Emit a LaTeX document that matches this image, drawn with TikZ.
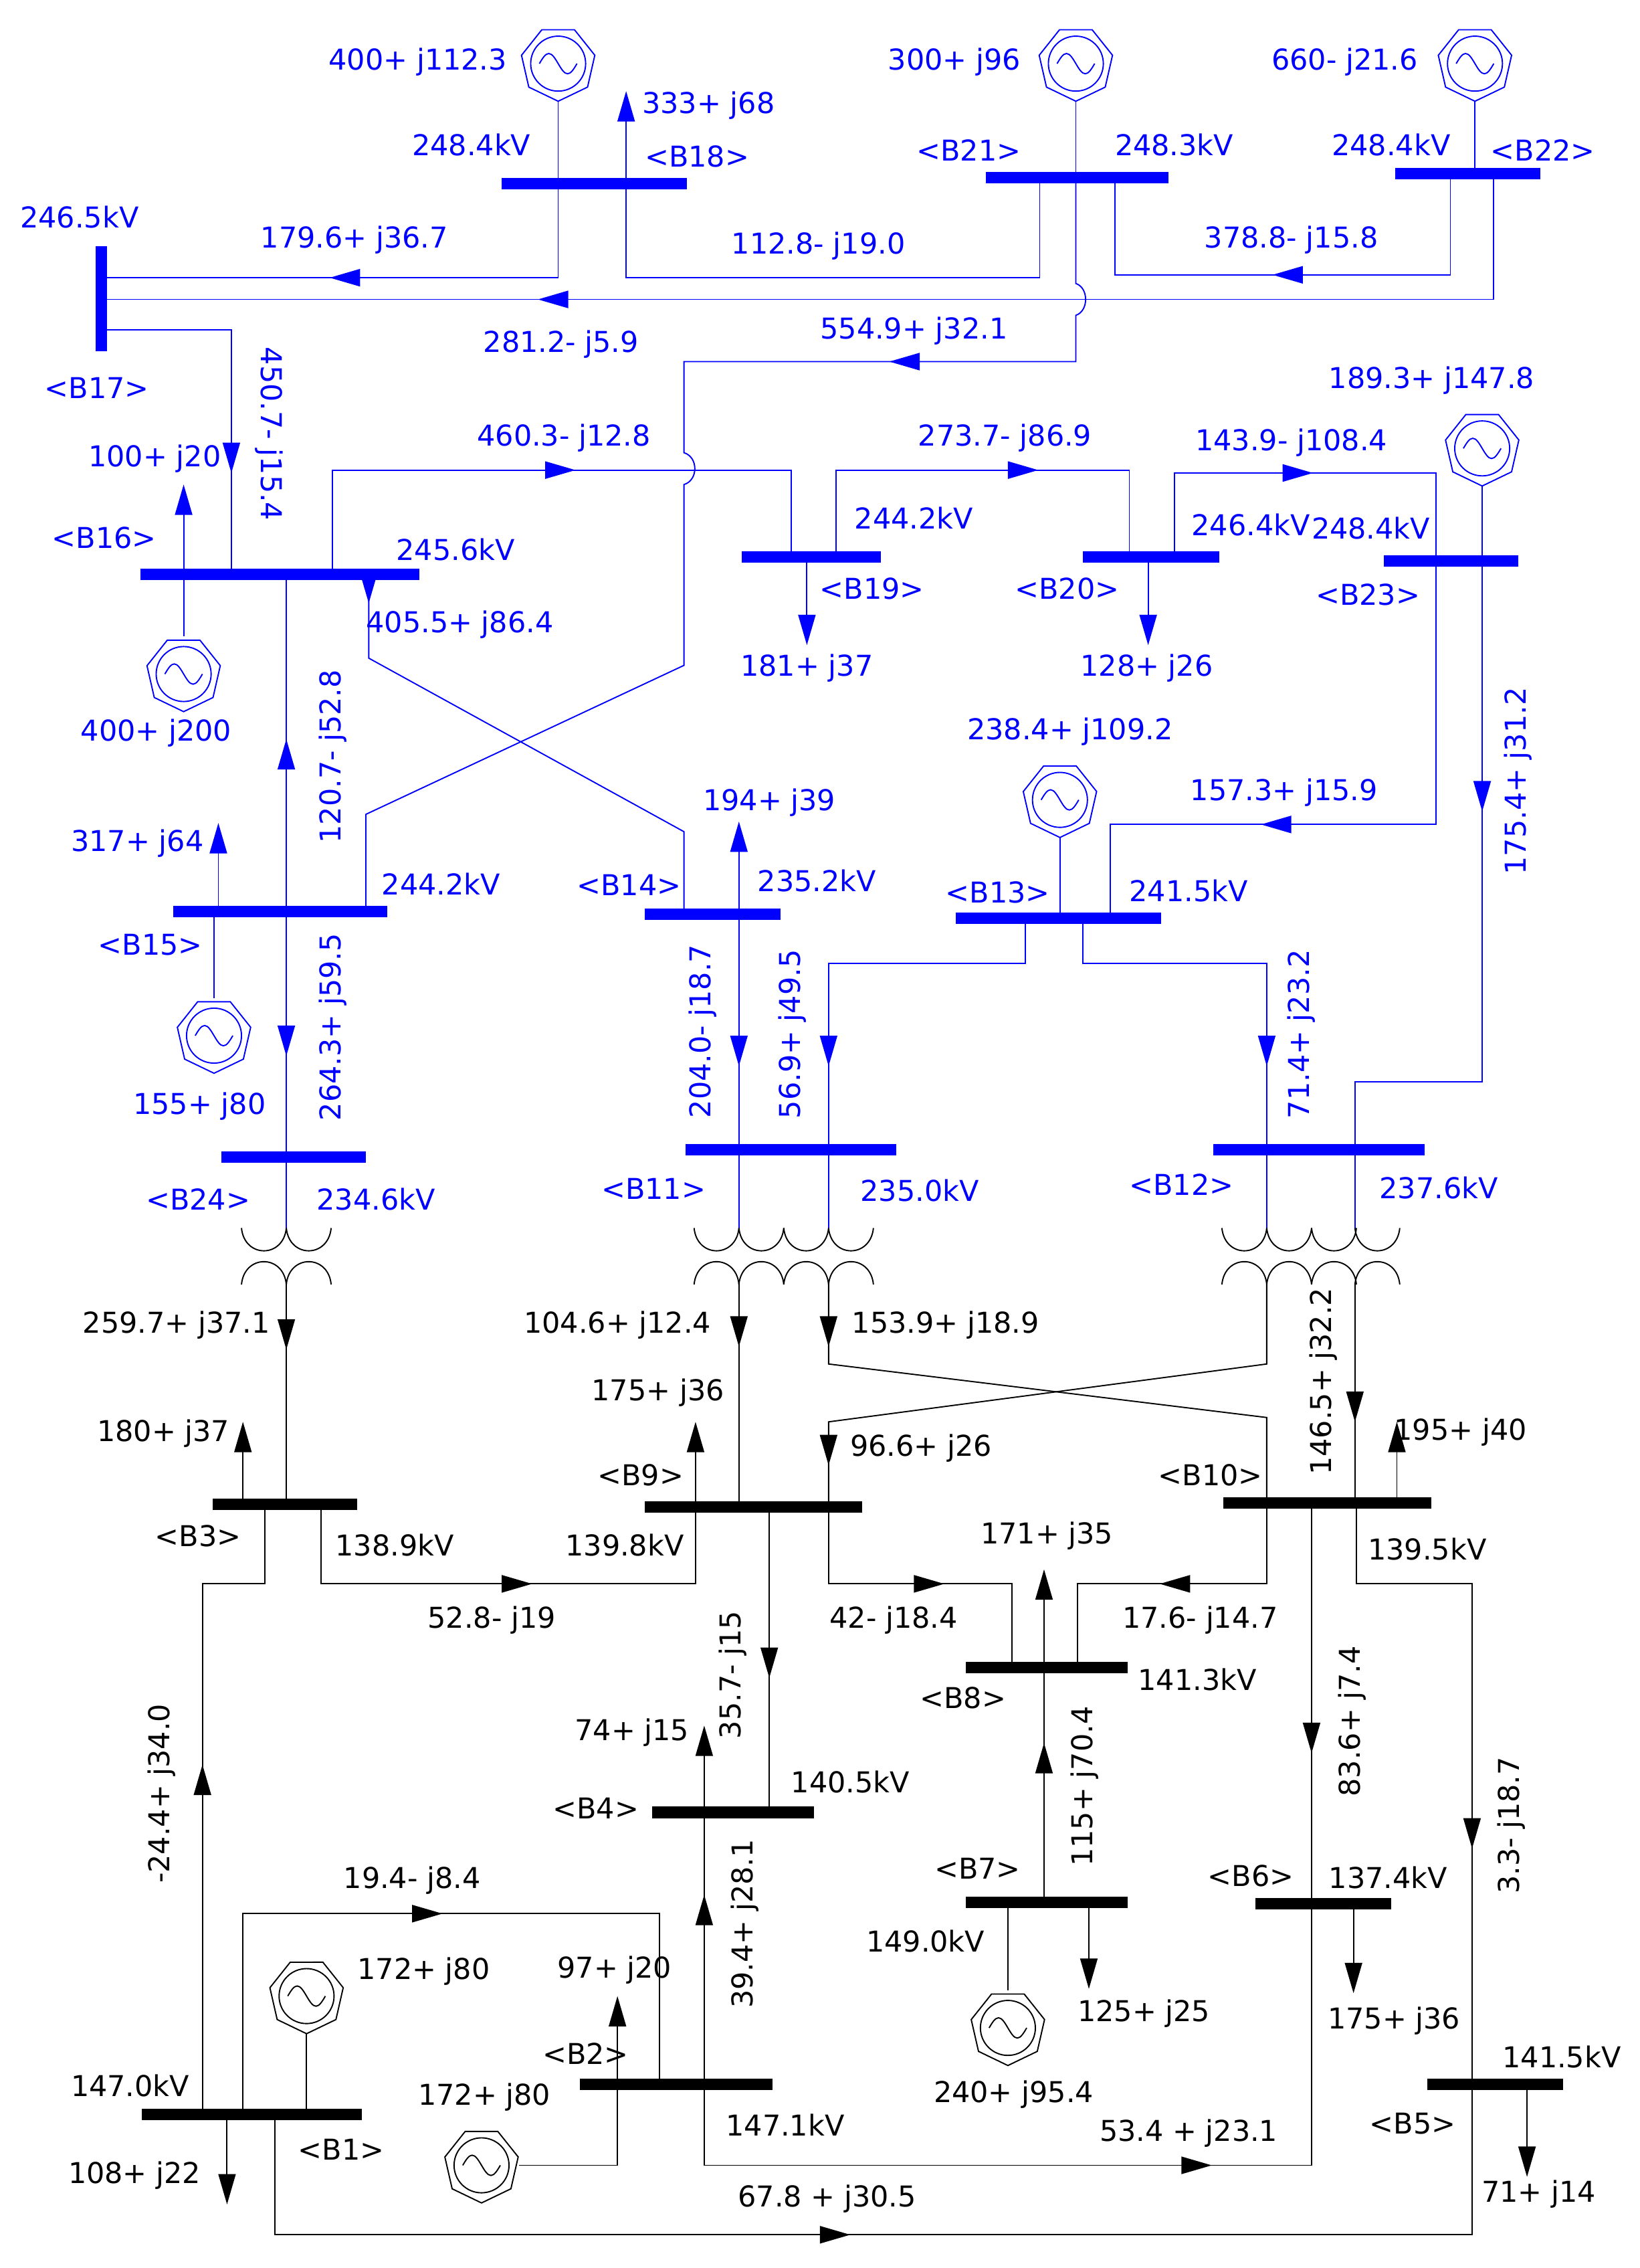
\documentclass[tikz,border=0pt]{standalone}
\usepackage{fontspec}
\setmainfont{DejaVu Sans}
\usetikzlibrary{arrows.meta}
\definecolor{bl}{RGB}{0,0,255}
\begin{document}
\begin{tikzpicture}[x=0.02cm,y=-0.02cm,
  every node/.style={font=\fontsize{11.3}{13}\selectfont,inner sep=0pt},
  ln/.style={line width=0.5pt},
  bus/.style={line width=4.5pt},
  ar/.style={ln,-{Triangle[length=0.42cm,width=0.24cm]}},
  gen/.pic={\draw[ln] (90:26)--(141.4:26)--(192.8:26)--(244.2:26)--(295.7:26)--(347.1:26)--(38.6:26)--cycle;
     \draw[ln] (0,0) circle (19);
     \draw[ln] (-13,0) sin (-6.5,-7) cos (0,0) sin (6.5,7) cos (13,0);},
  xa/.pic={\draw[ln] (0,0) .. controls (2,21) and (29,21) .. (31,0);
     \draw[ln] (0,39) .. controls (2,18) and (29,18) .. (31,39);}]
\useasboundingbox (0,0) rectangle (1134,1568);
% ================= BLUE PART =================
\begin{scope}[bl,every node/.append style={text=bl}]
% buses
\draw[bus] (347,127)--(475,127);
\draw[bus] (682,123)--(808,123);
\draw[bus] (965,120)--(1065,120);
\draw[bus] (70,170)--(70,243);
\draw[bus] (97,397)--(290,397);
\draw[bus] (513,385)--(609,385);
\draw[bus] (749,385)--(843,385);
\draw[bus] (957,388)--(1050,388);
\draw[bus] (120,630)--(268,630);
\draw[bus] (446,632)--(540,632);
\draw[bus] (661,635)--(803,635);
\draw[bus] (153,800)--(253,800);
\draw[bus] (474,795)--(620,795);
\draw[bus] (839,795)--(985,795);
% generators
\pic at (386,44) {gen}; \draw[ln] (386,70)--(386,127);
\pic at (744,44) {gen}; \draw[ln] (744,70)--(744,123);
\pic at (1020,44) {gen}; \draw[ln] (1020,70)--(1020,120);
\pic at (1025,310) {gen}; \draw[ln] (1025,336)--(1025,388);
\pic at (127,466) {gen}; \draw[ln] (127,397)--(127,440);
\pic at (148,716) {gen}; \draw[ln] (148,630)--(148,690);
\pic at (733,553) {gen}; \draw[ln] (733,579)--(733,635);
% top lines
\draw[ln] (433,127)--(433,192)--(719,192)--(719,123);
\draw[ar] (433,127)--(433,63);
\draw[ln] (386,127)--(386,192)--(70,192);
\draw[ar] (250,192)--(228,192);
\draw[ln] (1003,120)--(1003,190)--(771,190)--(771,123);
\draw[ar] (905,190)--(880,190);
\draw[ln] (1033,120)--(1033,207)--(70,207);
\draw[ar] (400,207)--(372,207);
\draw[ln] (744,123)--(744,196) .. controls (753,199) and (753,215) .. (744,218)--(744,250)--(473,250)--(473,313)
   .. controls (483,316) and (483,332) .. (473,335)--(473,460)--(253,563)--(253,630);
\draw[ar] (640,250)--(615,250);
\draw[ln] (70,228)--(160,228)--(160,397);
\draw[ar] (160,300)--(160,327);
\draw[ar] (127,397)--(127,335);
\draw[ln] (230,397)--(230,325)--(547,325)--(547,385);
\draw[ar] (370,325)--(398,325);
\draw[ar] (558,385)--(558,446);
\draw[ln] (578,385)--(578,325)--(781,325)--(781,385);
\draw[ar] (690,325)--(718,325);
\draw[ar] (794,385)--(794,446);
\draw[ln] (812,385)--(812,327)--(993,327)--(993,570)--(768,570)--(768,635);
\draw[ar] (880,327)--(908,327);
\draw[ar] (900,570)--(872,570);
\draw[ln] (1025,388)--(1025,748)--(937,748)--(937,795);
\draw[ar] (1025,533)--(1025,561);
\draw[ln] (255,397)--(255,455)--(473,575)--(473,632);
\draw[ar] (255,397)--(255,417);
\draw[ln] (198,397)--(198,800);
\draw[ar] (198,545)--(198,511);
\draw[ar] (198,700)--(198,730);
\draw[ar] (151,630)--(151,569);
\draw[ar] (511,632)--(511,568);
\draw[ln] (511,632)--(511,795);
\draw[ar] (511,705)--(511,737);
\draw[ln] (709,635)--(709,666)--(573,666)--(573,795);
\draw[ar] (573,705)--(573,737);
\draw[ln] (749,635)--(749,666)--(876,666)--(876,795);
\draw[ar] (876,705)--(876,737);
% leads to transformers
\draw[ln] (198,800)--(198,849);
\draw[ln] (511,795)--(511,849);
\draw[ln] (573,795)--(573,849);
\draw[ln] (876,795)--(876,849);
\draw[ln] (937,795)--(937,849);
% labels
\node at (289,43) {400+ j112.3};
\node at (660,43) {300+ j96};
\node at (930,43) {660- j21.6};
\node at (490,73) {333+ j68};
\node at (326,100) {248.4kV};
\node at (482,108) {<B18>};
\node at (670,104) {<B21>};
\node at (812,100) {248.3kV};
\node at (962,100) {248.4kV};
\node at (1067,104) {<B22>};
\node at (55,150) {246.5kV};
\node at (245,166) {179.6+ j36.7};
\node at (566,170) {112.8- j19.0};
\node at (893,166) {378.8- j15.8};
\node at (388,238) {281.2- j5.9};
\node at (632,229) {554.9+ j32.1};
\node at (67,268) {<B17>};
\node at (990,263) {189.3+ j147.8};
\node[rotate=-90] at (186,300) {450.7- j15.4};
\node at (390,303) {460.3- j12.8};
\node at (695,303) {273.7- j86.9};
\node at (893,306) {143.9- j108.4};
\node at (107,317) {100+ j20};
\node at (632,358) {244.2kV};
\node at (865,363) {246.4kV};
\node at (948,365) {248.4kV};
\node at (72,372) {<B16>};
\node at (315,380) {245.6kV};
\node at (603,407) {<B19>};
\node at (738,407) {<B20>};
\node at (946,411) {<B23>};
\node at (318,432) {405.5+ j86.4};
\node at (558,462) {181+ j37};
\node at (793,462) {128+ j26};
\node at (108,507) {400+ j200};
\node at (740,506) {238.4+ j109.2};
\node[rotate=90] at (230,523) {120.7- j52.8};
\node at (532,555) {194+ j39};
\node at (888,548) {157.3+ j15.9};
\node[rotate=90] at (1050,540) {175.4+ j31.2};
\node at (95,583) {317+ j64};
\node at (305,611) {244.2kV};
\node at (435,612) {<B14>};
\node at (565,609) {235.2kV};
\node at (690,617) {<B13>};
\node at (822,616) {241.5kV};
\node at (104,653) {<B15>};
\node[rotate=90] at (486,713) {204.0- j18.7};
\node[rotate=90] at (548,715) {56.9+ j49.5};
\node[rotate=90] at (230,710) {264.3+ j59.5};
\node[rotate=90] at (900,715) {71.4+ j23.2};
\node at (138,765) {155+ j80};
\node at (452,822) {<B11>};
\node at (636,823) {235.0kV};
\node at (817,819) {<B12>};
\node at (995,821) {237.6kV};
\node at (137,829) {<B24>};
\node at (260,829) {234.6kV};
\end{scope}
% ================= TRANSFORMERS =================
\foreach \x in {167,198,480,511,542,573,845,876,907,937} {\pic at (\x,849) {xa};}
% ================= BLACK PART =================
\draw[bus] (147,1040)--(247,1040);
\draw[bus] (446,1042)--(596,1042);
\draw[bus] (846,1039)--(990,1039);
\draw[bus] (668,1153)--(780,1153);
\draw[bus] (451,1253)--(563,1253);
\draw[bus] (668,1315)--(780,1315);
\draw[bus] (868,1316)--(962,1316);
\draw[bus] (98,1462)--(250,1462);
\draw[bus] (401,1441)--(534,1441);
\draw[bus] (987,1441)--(1081,1441);
\pic at (697,1402) {gen}; \draw[ln] (697,1315)--(697,1376);
\pic at (212,1380) {gen}; \draw[ln] (212,1406)--(212,1462);
\pic at (333,1497) {gen}; \draw[ln] (359,1497)--(427,1497)--(427,1441);
\draw[ln] (198,888)--(198,1040);
\draw[ar] (198,905)--(198,933);
\draw[ln] (511,888)--(511,1042);
\draw[ar] (511,903)--(511,931);
\draw[ln] (573,888)--(573,943)--(876,980)--(876,1039);
\draw[ar] (573,903)--(573,931);
\draw[ln] (876,888)--(876,943)--(573,983)--(573,1042);
\draw[ar] (573,985)--(573,1013);
\draw[ln] (937,888)--(937,1039);
\draw[ar] (937,955)--(937,983);
\draw[ar] (168,1040)--(168,983);
\draw[ar] (481,1042)--(481,983);
\draw[ar] (966,1039)--(966,983);
\draw[ln] (222,1040)--(222,1095)--(481,1095)--(481,1042);
\draw[ar] (340,1095)--(368,1095);
\draw[ln] (573,1042)--(573,1095)--(700,1095)--(700,1153);
\draw[ar] (625,1095)--(653,1095);
\draw[ln] (876,1039)--(876,1095)--(745,1095)--(745,1153);
\draw[ar] (830,1095)--(802,1095);
\draw[ar] (722,1153)--(722,1085);
\draw[ln] (532,1042)--(532,1253);
\draw[ar] (532,1130)--(532,1160);
\draw[ar] (487,1253)--(487,1193);
\draw[ln] (722,1315)--(722,1153);
\draw[ar] (722,1235)--(722,1205);
\draw[ar] (753,1315)--(753,1375);
\draw[ln] (907,1039)--(907,1497)--(487,1497)--(487,1253);
\draw[ar] (907,1180)--(907,1212);
\draw[ar] (810,1497)--(838,1497);
\draw[ar] (487,1340)--(487,1310);
\draw[ar] (936,1316)--(936,1378);
\draw[ln] (938,1039)--(938,1095)--(1018,1095)--(1018,1441);
\draw[ar] (1018,1250)--(1018,1278);
\draw[ar] (1056,1441)--(1056,1505);
\draw[ar] (427,1441)--(427,1380);
\draw[ln] (140,1462)--(140,1095)--(183,1095)--(183,1040);
\draw[ar] (140,1250)--(140,1220);
\draw[ln] (168,1462)--(168,1323)--(456,1323)--(456,1441);
\draw[ar] (278,1323)--(306,1323);
\draw[ar] (157,1462)--(157,1524);
\draw[ln] (190,1462)--(190,1545)--(1018,1545)--(1018,1441);
\draw[ar] (560,1545)--(588,1545);
% labels
\node at (122,916) {259.7+ j37.1};
\node at (427,916) {104.6+ j12.4};
\node at (654,916) {153.9+ j18.9};
\node at (455,963) {175+ j36};
\node[rotate=90] at (915,955) {146.5+ j32.2};
\node at (113,991) {180+ j37};
\node at (637,1001) {96.6+ j26};
\node at (1010,990) {195+ j40};
\node at (443,1020) {<B9>};
\node at (837,1020) {<B10>};
\node at (137,1062) {<B3>};
\node at (724,1062) {171+ j35};
\node at (273,1068) {138.9kV};
\node at (432,1068) {139.8kV};
\node at (987,1071) {139.5kV};
\node at (340,1120) {52.8- j19};
\node at (618,1120) {42- j18.4};
\node at (830,1120) {17.6- j14.7};
\node[rotate=90] at (507,1158) {35.7- j15};
\node at (828,1161) {141.3kV};
\node at (666,1174) {<B8>};
\node[rotate=90] at (935,1190) {83.6+ j7.4};
\node at (437,1198) {74+ j15};
\node[rotate=90] at (750,1235) {115+ j70.4};
\node at (588,1232) {140.5kV};
\node[rotate=90] at (112,1240) {-24.4+ j34.0};
\node at (412,1250) {<B4>};
\node[rotate=90] at (1045,1262) {3.3- j18.7};
\node at (676,1292) {<B7>};
\node at (865,1297) {<B6>};
\node at (960,1298) {137.4kV};
\node at (285,1300) {19.4- j8.4};
\node[rotate=90] at (515,1330) {39.4+ j28.1};
\node at (640,1342) {149.0kV};
\node at (425,1362) {97+ j20};
\node at (293,1363) {172+ j80};
\node at (791,1392) {125+ j25};
\node at (964,1397) {175+ j36};
\node at (405,1420) {<B2>};
\node at (1080,1422) {141.5kV};
\node at (90,1442) {147.0kV};
\node at (701,1448) {240+ j95.4};
\node at (335,1450) {172+ j80};
\node at (543,1469) {147.1kV};
\node at (977,1468) {<B5>};
\node at (822,1475) {53.4 + j23.1};
\node at (236,1486) {<B1>};
\node at (93,1504) {108+ j22};
\node at (1064,1517) {71+ j14};
\node at (572,1520) {67.8 + j30.5};
\end{tikzpicture}
\end{document}
